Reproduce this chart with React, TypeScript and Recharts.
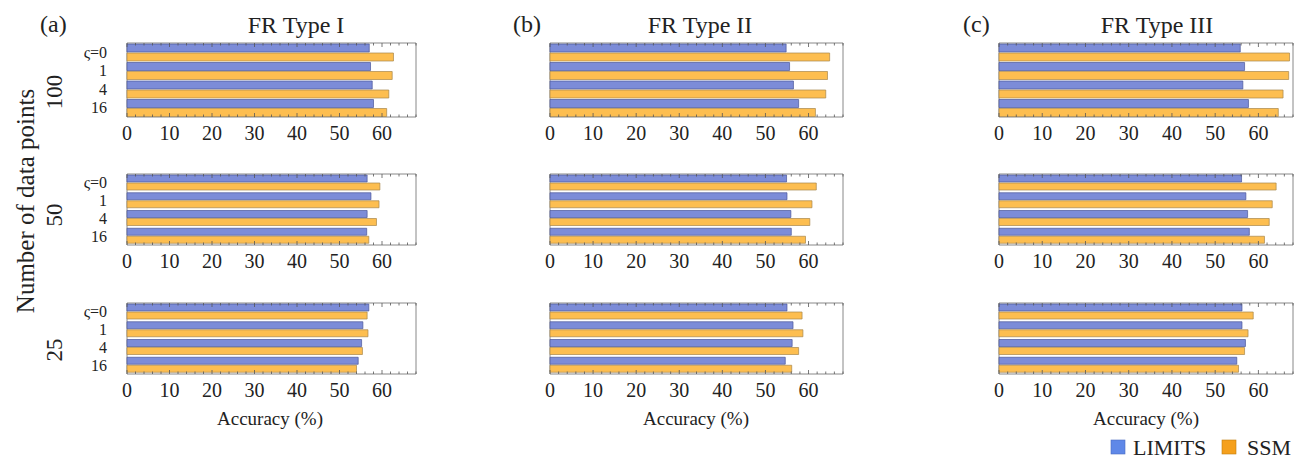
import React from 'react';
import { BarChart, Bar, XAxis, YAxis, ReferenceArea } from 'recharts';

const categories = ['ς=0', '1', '4', '16'];
const xTicks = [0, 2, 4, 6, 8, 10, 12, 14, 16, 18, 20, 22, 24, 26, 28, 30, 32, 34, 36, 38, 40, 42, 44, 46, 48, 50, 52, 54, 56, 58, 60, 62, 64, 66, 68];

// FR Type I
const typeI_100_limits = [57.0, 57.3, 57.7, 58.0];
const typeI_100_ssm = [62.7, 62.4, 61.6, 61.1];
const typeI_50_limits = [56.5, 57.4, 56.5, 56.4];
const typeI_50_ssm = [59.5, 59.3, 58.7, 56.9];
const typeI_25_limits = [56.9, 55.5, 55.2, 54.4];
const typeI_25_ssm = [56.5, 56.7, 55.4, 54.0];

// FR Type II
const typeII_100_limits = [54.8, 55.6, 56.5, 57.7];
const typeII_100_ssm = [64.9, 64.4, 64.0, 61.6];
const typeII_50_limits = [54.9, 55.0, 55.9, 56.0];
const typeII_50_ssm = [61.8, 60.8, 60.3, 59.3];
const typeII_25_limits = [55.0, 56.4, 56.2, 54.6];
const typeII_25_ssm = [58.5, 58.7, 57.7, 56.1];

// FR Type III
const typeIII_100_limits = [55.8, 56.8, 56.4, 57.7];
const typeIII_100_ssm = [67.2, 67.0, 65.7, 64.6];
const typeIII_50_limits = [56.1, 57.1, 57.5, 57.9];
const typeIII_50_ssm = [64.1, 63.2, 62.5, 61.4];
const typeIII_25_limits = [56.2, 56.2, 57.0, 55.0];
const typeIII_25_ssm = [58.8, 57.6, 56.8, 55.4];

const panels = [
  [[typeI_100_limits, typeI_100_ssm], [typeI_50_limits, typeI_50_ssm], [typeI_25_limits, typeI_25_ssm]],
  [[typeII_100_limits, typeII_100_ssm], [typeII_50_limits, typeII_50_ssm], [typeII_25_limits, typeII_25_ssm]],
  [[typeIII_100_limits, typeIII_100_ssm], [typeIII_50_limits, typeIII_50_ssm], [typeIII_25_limits, typeIII_25_ssm]],
];

const FONT = "'Liberation Serif', 'DejaVu Serif', 'Times New Roman', serif";
const colLeft = [127, 550, 999];
const colWidth = [289, 293, 294];
const rowTop = [43, 174, 303];
const rowHeight = [74, 71, 71];

const BLUE = '#7c8cd8';
const ORANGE = '#fdbe50';
const txt = { fontFamily: FONT };

function makeTick(plotH: number) {
  return (props: any) => {
    const { x, y, payload } = props;
    const major = payload.value % 10 === 0;
    const len = major ? 4 : 2.5;
    return (
      <g>
        <line x1={x} y1={y} x2={x} y2={y - len} stroke="#555" strokeWidth={0.8} />
        <line x1={x} y1={y - plotH} x2={x} y2={y - plotH + len} stroke="#555" strokeWidth={0.8} />
        {major && payload.value <= 60 && (
          <text x={x} y={y + 16} dy="0.35em" textAnchor="middle" fontSize={20} style={txt} fill="#222">
            {payload.value}
          </text>
        )}
      </g>
    );
  };
}

function yTick(props: any) {
  const { x, y, payload } = props;
  return (
    <text x={x} y={y} dy="0.35em" textAnchor="end" fontSize={16} style={txt} fill="#222">
      {payload.value}
    </text>
  );
}

function Panel({ col, row }: { col: number; row: number }) {
  const [lim, ssm] = panels[col][row];
  const data = categories.map((s, i) => ({ s, limits: lim[i], ssm: ssm[i] }));
  const showY = col === 0;
  const yW = showY ? 60 : 0;
  const mL = 12;
  const w = colWidth[col];
  const h = rowHeight[row];
  const xH = 30;
  return (
    <div style={{ position: 'absolute', left: colLeft[col] - yW - mL, top: rowTop[row] - 1 }}>
      <BarChart
        layout="vertical"
        width={w + yW + mL + 2}
        height={h + xH + 1}
        data={data}
        margin={{ top: 1, right: 2, left: mL, bottom: 0 }}
        barCategoryGap={1}
        barGap={1}
      >
        <XAxis
          type="number"
          domain={[0, 68]}
          ticks={xTicks}
          interval={0}
          height={xH}
          tickSize={0}
          tickMargin={0}
          tickLine={false}
          axisLine={false}
          tick={makeTick(h)}
        />
        <YAxis
          type="category"
          dataKey="s"
          width={yW}
          hide={!showY}
          interval={0}
          axisLine={false}
          tickLine={false}
          tickMargin={14}
          tick={yTick}
        />
        <Bar dataKey="limits" fill={BLUE} stroke="#4b5699" strokeWidth={0.7} isAnimationActive={false} />
        <Bar dataKey="ssm" fill={ORANGE} stroke="#a8874a" strokeWidth={0.7} isAnimationActive={false} />
        <ReferenceArea x1={0} x2={68} fill="none" stroke="#888" strokeWidth={1} ifOverflow="visible" />
      </BarChart>
    </div>
  );
}

const colTags = ['(a)', '(b)', '(c)'];
const colTitles = ['FR Type I', 'FR Type II', 'FR Type III'];
const rowLabels = ['100', '50', '25'];

export default function App() {
  const tagX = [40, 513, 963];
  const titleX = [296, 700, 1157];
  const accX = [270, 696, 1146];
  const rowLabelY = [92, 215, 350];
  return (
    <div style={{ position: 'absolute', left: 0, top: 0, width: 1309, height: 460, background: '#fff', fontFamily: FONT }}>
      <svg width={1309} height={460} style={{ position: 'absolute', left: 0, top: 0 }}>
        {colTags.map((t, i) => (
          <text key={t} x={tagX[i]} y={32} fontSize={24} style={txt} fill="#222">{t}</text>
        ))}
        {colTitles.map((t, i) => (
          <text key={t} x={titleX[i]} y={33} fontSize={24} style={txt} fill="#222" textAnchor="middle">{t}</text>
        ))}
        {rowLabels.map((t, i) => (
          <text key={t} x={0} y={0} transform={`translate(54, ${rowLabelY[i]}) rotate(-90)`} fontSize={23} style={txt} fill="#222" textAnchor="middle" dominantBaseline="central">{t}</text>
        ))}
        <text x={0} y={0} transform="translate(25, 201) rotate(-90)" fontSize={25} style={txt} fill="#222" textAnchor="middle" dominantBaseline="central">Number of data points</text>
        {accX.map((x, i) => (
          <text key={i} x={x} y={418} fontSize={19} style={txt} fill="#222" textAnchor="middle" dominantBaseline="central">Accuracy (%)</text>
        ))}
        <rect x={1111} y={440} width={14} height={14} fill="#5f88e8" stroke="#4a6cc0" strokeWidth={0.6} />
        <text x={1133} y={455} fontSize={22} style={txt} fill="#222">LIMITS</text>
        <rect x={1222} y={440} width={14} height={14} fill="#f5a01c" stroke="#c07e10" strokeWidth={0.6} />
        <text x={1247} y={455} fontSize={22} style={txt} fill="#222">SSM</text>
      </svg>
      {[0, 1, 2].map((c) => [0, 1, 2].map((r) => <Panel key={`${c}-${r}`} col={c} row={r} />))}
    </div>
  );
}
